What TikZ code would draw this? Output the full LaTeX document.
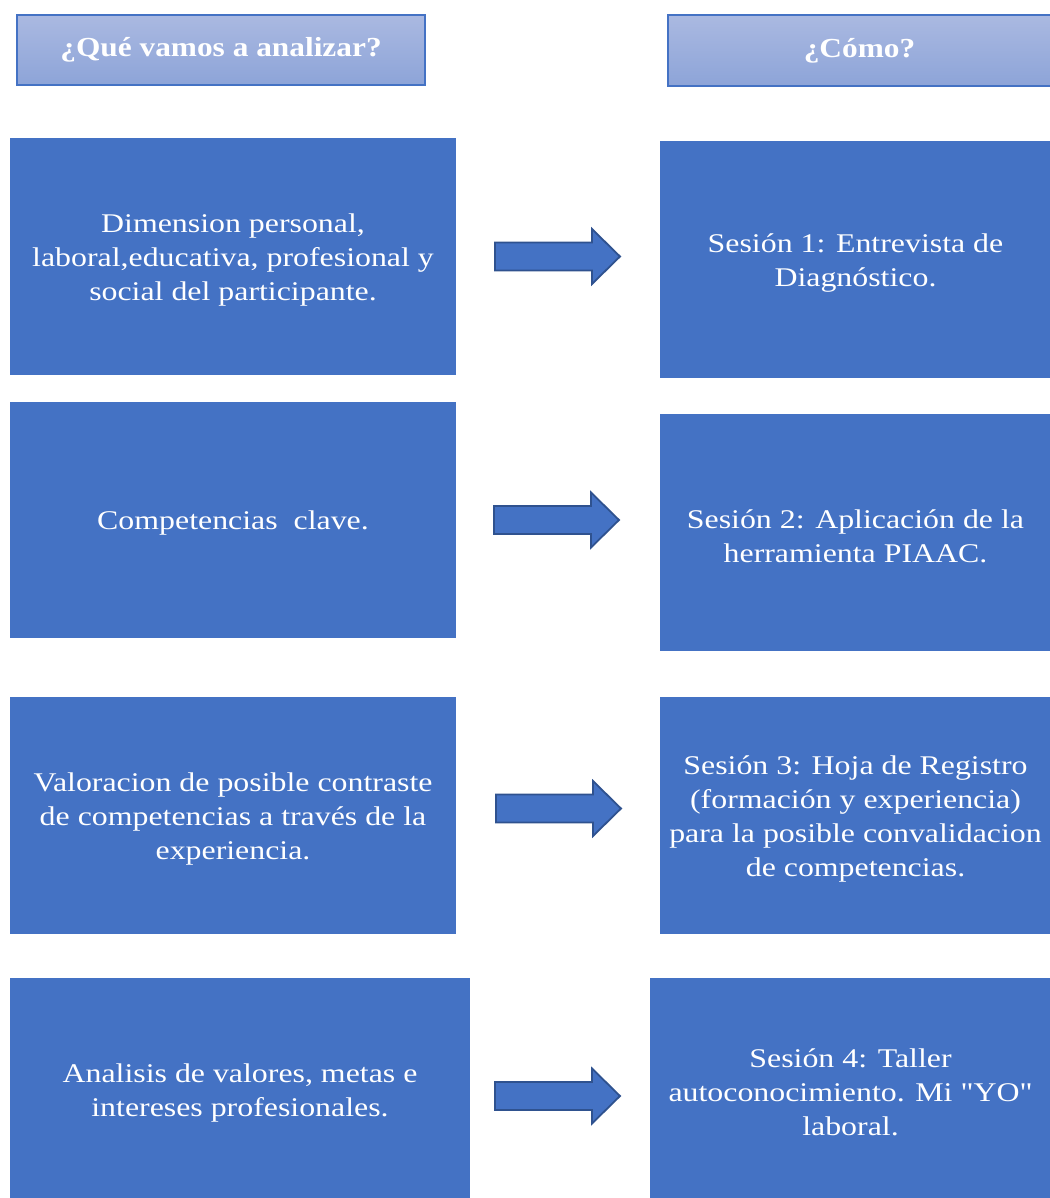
\documentclass[tikz,border=0pt]{standalone}
\usepackage{fontspec}
\setmainfont{Liberation Serif}
\newfontfamily\bodyfont{Liberation Serif}[FakeStretch=1.18,Ligatures=TeXOff]
\newfontfamily\headfont{Liberation Serif}[FakeStretch=1.14,Ligatures=TeXOff]
\begin{document}
\begin{tikzpicture}[x=1pt,y=-1pt,
  every node/.style={inner sep=0pt,outer sep=0pt},
  header/.style={draw=blueEdge,line width=1.2pt,top color=headTop,bottom color=headBot,
    text=white,font=\headfont\fontsize{27.5}{32}\selectfont\bfseries,anchor=north west},
  panel/.style={fill=panelBlue,anchor=north west},
  paneltext/.style={text=white,align=center,yshift=-3.5pt,
    font=\bodyfont\fontsize{27}{34}\selectfont},
  arrowfill/.style={fill=panelBlue,draw=arrowEdge,line width=1.8pt,line join=miter}
]
\definecolor{panelBlue}{HTML}{4472C4}
\definecolor{blueEdge}{HTML}{4472C4}
\definecolor{headTop}{HTML}{AAB9E1}
\definecolor{headBot}{HTML}{8DA4D8}
\definecolor{arrowEdge}{HTML}{2F528F}
\useasboundingbox (0,0) rectangle (1049,1198);

% column headings
\node[header,minimum width=408pt,minimum height=70pt] (h1) at (17,15) {¿Qué vamos a analizar?};
\node[header,minimum width=383pt,minimum height=71pt] (h2) at (668,15) {¿Cómo?};

% left column
\node[panel,minimum width=446pt,minimum height=237pt] (l1) at (10,138) {};
\node[panel,minimum width=446pt,minimum height=236pt] (l2) at (10,402) {};
\node[panel,minimum width=446pt,minimum height=237pt] (l3) at (10,697) {};
\node[panel,minimum width=460pt,minimum height=222pt] (l4) at (10,978) {};
\node[paneltext] (l1t) at (l1.center)
  {Dimension personal,\\laboral,educativa, profesional y\\social del participante.};
\node[paneltext] (l2t) at (l2.center) {Competencias\ \ clave.};
\node[paneltext] (l3t) at (l3.center)
  {Valoracion de posible contraste\\de competencias a través de la\\experiencia.};
\node[paneltext] (l4t) at (l4.center)
  {Analisis de valores, metas e\\intereses profesionales.};

% right column
\node[panel,minimum width=391pt,minimum height=237pt] (r1) at (660,141) {};
\node[panel,minimum width=391pt,minimum height=237pt] (r2) at (660,414) {};
\node[panel,minimum width=391pt,minimum height=237pt] (r3) at (660,697) {};
\node[panel,minimum width=401pt,minimum height=222pt] (r4) at (650,978) {};
\node[paneltext] (r1t) at (r1.center) {Sesión 1: Entrevista de\\Diagnóstico.};
\node[paneltext] (r2t) at (r2.center) {Sesión 2: Aplicación de la\\herramienta PIAAC.};
\node[paneltext] (r3t) at (r3.center)
  {Sesión 3: Hoja de Registro\\(formación y experiencia)\\para la posible convalidacion\\de competencias.};
\node[paneltext] (r4t) at (r4.center)
  {Sesión 4: Taller\\autoconocimiento. Mi "YO"\\laboral.};

% block arrows between the columns
\tikzset{blockarrow/.pic={
  \path[arrowfill] (0,-14) -- (97,-14) -- (97,-27.5) -- (125,0) -- (97,27.5)
    -- (97,14) -- (0,14) -- cycle;}}
\coordinate (a1) at (495,256.5);
\coordinate (a2) at (494,520);
\coordinate (a3) at (496,808.5);
\coordinate (a4) at (495,1096);
\foreach \a in {a1,a2,a3,a4} \pic at (\a) {blockarrow};
\end{tikzpicture}
\end{document}
